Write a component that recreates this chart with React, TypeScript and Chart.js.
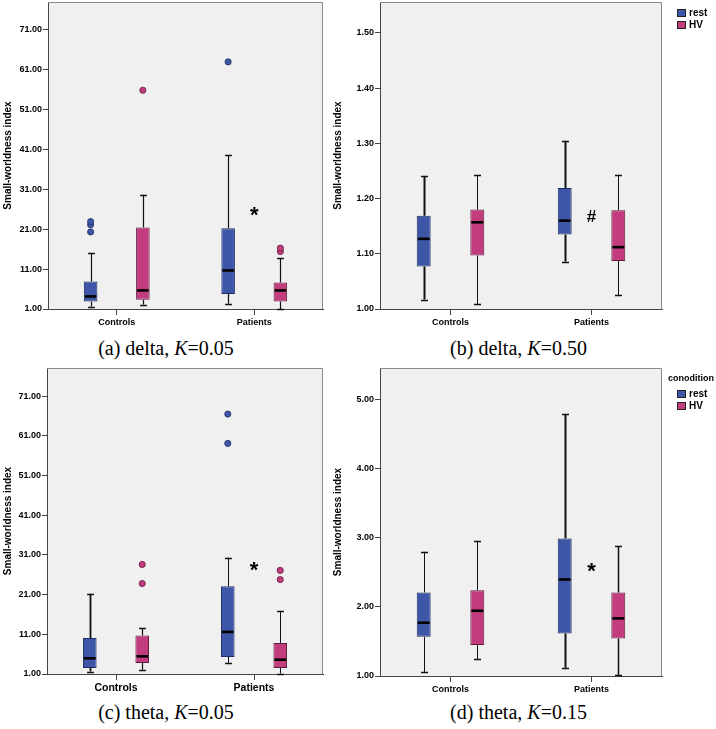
import React, { useEffect, useRef } from 'react';
import { Chart, registerables } from 'chart.js';

Chart.register(...registerables);

const SANS = "'Liberation Sans', Arial, sans-serif";
const SERIF = "'Liberation Serif', 'Times New Roman', serif";

const categories = ['Controls', 'Patients'];
const seriesLabels = ['rest', 'HV'];
const seriesFill = ['#3d56a8', '#c23c7e'];
const seriesEdge = ['#1f2d62', '#5e1a3d'];
const yTitle = 'Small-worldness index';
const legendTitleD = 'conodition';

// (a) delta, K=0.05
const aTicks = [1, 11, 21, 31, 41, 51, 61, 71];
const aRestBox = [[2.9, 7.9], [4.75, 21.2]];
const aRestMedian = [4.15, 10.65];
const aRestWhisker = [[1.6, 15.0], [2.3, 39.5]];
const aRestOutliers = [[20.3, 22.1, 22.9], [62.9]];
const aHvBox = [[3.3, 21.4], [2.9, 7.65]];
const aHvMedian = [5.65, 5.65];
const aHvWhisker = [[2.1, 29.6], [1.0, 13.75]];
const aHvOutliers = [[55.8], [15.4, 16.25]];
const aMarkValue = 25.8;

// (b) delta, K=0.50
const bTicks = [1.0, 1.1, 1.2, 1.3, 1.4, 1.5];
const bRestBox = [[1.077, 1.169], [1.135, 1.219]];
const bRestMedian = [1.127, 1.16];
const bRestWhisker = [[1.017, 1.24], [1.086, 1.304]];
const bRestOutliers = [[], []];
const bHvBox = [[1.097, 1.18], [1.087, 1.179]];
const bHvMedian = [1.157, 1.112];
const bHvWhisker = [[1.009, 1.242], [1.025, 1.243]];
const bHvOutliers = [[], []];
const bMarkValue = 1.169;

// (c) theta, K=0.05
const cTicks = [1, 11, 21, 31, 41, 51, 61, 71];
const cRestBox = [[2.5, 10.1], [5.3, 23.1]];
const cRestMedian = [4.95, 11.6];
const cRestWhisker = [[1.6, 21.25], [3.8, 30.3]];
const cRestOutliers = [[], [59.1, 66.5]];
const cHvBox = [[3.8, 10.7], [2.5, 8.8]];
const cHvMedian = [5.45, 4.6];
const cHvWhisker = [[2.1, 12.6], [1.1, 16.8]];
const cHvOutliers = [[23.8, 28.6], [24.8, 27.1]];
const cMarkValue = 28.4;

// (d) theta, K=0.15
const dTicks = [1, 2, 3, 4, 5];
const dRestBox = [[1.567, 2.207], [1.615, 2.986]];
const dRestMedian = [1.769, 2.394];
const dRestWhisker = [[1.06, 2.793], [1.12, 4.784]];
const dRestOutliers = [[], []];
const dHvBox = [[1.447, 2.24], [1.543, 2.207]];
const dHvMedian = [1.942, 1.832];
const dHvWhisker = [[1.24, 2.947], [1.014, 2.875]];
const dHvOutliers = [[], []];
const dMarkValue = 2.59;

type Series = { box: number[][]; median: number[]; whisker: number[][]; outliers: number[][]; ww: number[] };
type Panel = {
  key: string;
  left: number; top: number; width: number; height: number;
  yW: number; xH: number; padTop: number; padRight: number;
  yMin: number; yMax: number; ticks: number[];
  rest: Series; hv: Series;
  mark: { text: string; value: number; size: number; lift: number; bold: boolean };
  legend?: { x: number; y: number; step: number; title?: string; titleY?: number; titleX?: number };
  xFont: number;
  caption: [string, string];
  capX: number; capY: number;
};

const boxPlotExtras = {
  id: 'boxPlotExtras',
  beforeDraw(chart: any) {
    const { ctx, chartArea: a } = chart;
    ctx.save();
    ctx.fillStyle = '#f0f0f0';
    ctx.fillRect(a.left, a.top, a.right - a.left, a.bottom - a.top);
    ctx.restore();
  },
  beforeDatasetsDraw(chart: any) {
    const { ctx, chartArea: a } = chart;
    const y = chart.scales.y;
    ctx.save();
    ctx.strokeStyle = '#8a8a8a';
    ctx.lineWidth = 1;
    ctx.beginPath();
    ctx.moveTo(a.left, a.top + 0.5);
    ctx.lineTo(a.right - 0.5, a.top + 0.5);
    ctx.lineTo(a.right - 0.5, a.bottom);
    ctx.stroke();
    chart.data.datasets.forEach((ds: any, i: number) => {
      const meta = chart.getDatasetMeta(i);
      meta.data.forEach((el: any, j: number) => {
        const x = Math.round(el.x) + 0.5;
        const cap = el.width * 0.5;
        const [lo, hi] = ds.whisker[j];
        const [q1, q3] = ds.data[j];
        ctx.strokeStyle = '#111';
        ctx.lineWidth = ds.ww[j];
        ctx.beginPath();
        ctx.moveTo(x, y.getPixelForValue(hi));
        ctx.lineTo(x, y.getPixelForValue(q3));
        ctx.moveTo(x, y.getPixelForValue(q1));
        ctx.lineTo(x, y.getPixelForValue(lo));
        ctx.stroke();
        ctx.lineWidth = 1.3;
        ctx.beginPath();
        for (const v of [lo, hi]) {
          const py = Math.round(y.getPixelForValue(v)) + 0.5;
          ctx.moveTo(x - cap / 2, py);
          ctx.lineTo(x + cap / 2, py);
        }
        ctx.stroke();
      });
    });
    ctx.restore();
  },
  afterDatasetsDraw(chart: any, _args: any, opts: any) {
    const { ctx } = chart;
    const y = chart.scales.y;
    const xs = chart.scales.x;
    ctx.save();
    chart.data.datasets.forEach((ds: any, i: number) => {
      const meta = chart.getDatasetMeta(i);
      meta.data.forEach((el: any, j: number) => {
        const py = y.getPixelForValue(ds.median[j]);
        ctx.strokeStyle = '#000';
        ctx.lineWidth = 2.6;
        ctx.beginPath();
        ctx.moveTo(el.x - el.width / 2 + 1, py);
        ctx.lineTo(el.x + el.width / 2 - 1, py);
        ctx.stroke();
        for (const v of ds.outliers[j]) {
          ctx.beginPath();
          ctx.arc(el.x, y.getPixelForValue(v), 3.1, 0, Math.PI * 2);
          ctx.fillStyle = ds.backgroundColor;
          ctx.fill();
          ctx.lineWidth = 0.8;
          ctx.strokeStyle = ds.borderColor;
          ctx.stroke();
        }
      });
    });
    const m = opts.mark;
    if (m) {
      ctx.fillStyle = '#000';
      ctx.font = `${m.bold ? 'bold ' : ''}${m.size}px ${SANS}`;
      ctx.textAlign = 'center';
      ctx.textBaseline = 'alphabetic';
      ctx.fillText(m.text, xs.getPixelForValue(1), y.getPixelForValue(m.value) + m.lift * m.size);
    }
    const lg = opts.legend;
    if (lg) {
      ctx.textAlign = 'left';
      ctx.textBaseline = 'middle';
      if (lg.title) {
        ctx.fillStyle = '#000';
        ctx.font = `bold 9px ${SANS}`;
        ctx.fillText(lg.title, lg.titleX, lg.titleY);
      }
      chart.data.datasets.forEach((ds: any, i: number) => {
        const top = lg.y + i * lg.step;
        ctx.fillStyle = ds.backgroundColor;
        ctx.fillRect(lg.x, top, 9, 8);
        ctx.strokeStyle = '#222';
        ctx.lineWidth = 1;
        ctx.strokeRect(lg.x + 0.5, top + 0.5, 8, 7);
        ctx.fillStyle = '#000';
        ctx.font = `bold 10px ${SANS}`;
        ctx.fillText(ds.label, lg.x + 12, top + 4.5);
      });
    }
    ctx.restore();
  },
};

function makeSeries(box: number[][], median: number[], whisker: number[][], outliers: number[][], ww: number[]): Series {
  return { box, median, whisker, outliers, ww };
}

const panels: Panel[] = [
  {
    key: 'a', left: 0, top: 0, width: 330, height: 332, yW: 48, xH: 23, padTop: 2, padRight: 7,
    yMin: 1, yMax: 77.9, ticks: aTicks,
    rest: makeSeries(aRestBox, aRestMedian, aRestWhisker, aRestOutliers, [1.2, 1.2]),
    hv: makeSeries(aHvBox, aHvMedian, aHvWhisker, aHvOutliers, [1.2, 1.2]),
    mark: { text: '*', value: aMarkValue, size: 22, lift: 0.55, bold: true },
    xFont: 9, caption: ['(a) delta, ', '=0.05'], capX: 166, capY: 348,
  },
  {
    key: 'b', left: 330, top: 0, width: 386, height: 332, yW: 50, xH: 23, padTop: 2, padRight: 54,
    yMin: 1, yMax: 1.556, ticks: bTicks,
    rest: makeSeries(bRestBox, bRestMedian, bRestWhisker, bRestOutliers, [2, 2]),
    hv: makeSeries(bHvBox, bHvMedian, bHvWhisker, bHvOutliers, [1, 1]),
    mark: { text: '#', value: bMarkValue, size: 17, lift: 0.36, bold: true },
    legend: { x: 347, y: 9, step: 12 },
    xFont: 9, caption: ['(b) delta, ', '=0.50'], capX: 518.5, capY: 348,
  },
  {
    key: 'c', left: 0, top: 366, width: 330, height: 332, yW: 47, xH: 24, padTop: 2, padRight: 7,
    yMin: 1, yMax: 78.1, ticks: cTicks,
    rest: makeSeries(cRestBox, cRestMedian, cRestWhisker, cRestOutliers, [1.8, 1]),
    hv: makeSeries(cHvBox, cHvMedian, cHvWhisker, cHvOutliers, [1.2, 1]),
    mark: { text: '*', value: cMarkValue, size: 22, lift: 0.55, bold: true },
    xFont: 10.5, caption: ['(c) theta, ', '=0.05'], capX: 166, capY: 712,
  },
  {
    key: 'd', left: 330, top: 366, width: 386, height: 332, yW: 50, xH: 22, padTop: 2, padRight: 54,
    yMin: 1, yMax: 5.449, ticks: dTicks,
    rest: makeSeries(dRestBox, dRestMedian, dRestWhisker, dRestOutliers, [1, 2]),
    hv: makeSeries(dHvBox, dHvMedian, dHvWhisker, dHvOutliers, [1, 1.5]),
    mark: { text: '*', value: dMarkValue, size: 22, lift: 0.55, bold: true },
    legend: { x: 347, y: 24, step: 12, title: legendTitleD, titleX: 338, titleY: 13 },
    xFont: 9, caption: ['(d) theta, ', '=0.15'], capX: 518.5, capY: 712,
  },
];

function buildChart(canvas: HTMLCanvasElement, p: Panel) {
  const mk = (s: Series, i: number) => ({
    label: seriesLabels[i],
    data: s.box,
    backgroundColor: seriesFill[i],
    borderColor: seriesEdge[i],
    borderWidth: 1,
    borderSkipped: false,
    median: s.median,
    whisker: s.whisker,
    outliers: s.outliers,
    ww: s.ww,
    categoryPercentage: 0.76,
    barPercentage: 0.26,
  });
  return new Chart(canvas, {
    type: 'bar',
    data: { labels: categories, datasets: [mk(p.rest, 0), mk(p.hv, 1)] as any },
    options: {
      animation: false,
      responsive: false,
      devicePixelRatio: 1,
      events: [],
      layout: { autoPadding: false, padding: { top: p.padTop, right: p.padRight, left: 0, bottom: 0 } },
      plugins: {
        legend: { display: false },
        tooltip: { enabled: false },
        boxPlotExtras: { mark: p.mark, legend: p.legend },
      } as any,
      scales: {
        x: {
          grid: { display: true, drawOnChartArea: false, offset: false, tickLength: 6, color: '#444', lineWidth: 1 },
          border: { display: true, color: '#444', width: 1 },
          ticks: { color: '#000', font: { family: SANS, size: p.xFont, weight: 'bold' }, padding: 2 },
          afterFit: (s: any) => { s.height = p.xH; s.paddingLeft = 0; s.paddingRight = 0; },
        },
        y: {
          type: 'linear',
          min: p.yMin,
          max: p.yMax,
          afterBuildTicks: (s: any) => { s.ticks = p.ticks.map((v) => ({ value: v })); },
          grid: { display: true, drawOnChartArea: false, tickLength: 5, color: '#444', lineWidth: 1 },
          border: { display: true, color: '#444', width: 1 },
          ticks: {
            color: '#000',
            font: { family: SANS, size: 9, weight: 'bold' },
            padding: 1,
            callback: (v: any) => Number(v).toFixed(2),
          },
          title: { display: true, text: yTitle, color: '#000', font: { family: SANS, size: 10, weight: 'bold' }, padding: { top: 2, bottom: 0 } },
          afterFit: (s: any) => { s.width = p.yW; s.paddingTop = 0; s.paddingBottom = 0; },
        },
      },
    } as any,
    plugins: [boxPlotExtras as any],
  });
}

function PanelChart({ p }: { p: Panel }) {
  const ref = useRef<HTMLCanvasElement>(null);
  useEffect(() => {
    if (!ref.current) return;
    const chart = buildChart(ref.current, p);
    return () => chart.destroy();
  }, [p]);
  return (
    <canvas
      ref={ref}
      width={p.width}
      height={p.height}
      style={{ position: 'absolute', left: p.left, top: p.top, width: p.width, height: p.height }}
    />
  );
}

export default function App() {
  return (
    <div style={{ position: 'fixed', left: 0, top: 0, width: 716, height: 729, background: '#fff', overflow: 'hidden' }}>
      {panels.map((p) => (
        <React.Fragment key={p.key}>
          <PanelChart p={p} />
          <div
            style={{
              position: 'absolute',
              left: p.capX - 120,
              width: 240,
              top: p.capY - 12,
              height: 24,
              lineHeight: '24px',
              textAlign: 'center',
              fontFamily: SERIF,
              fontSize: 20,
              color: '#000',
              whiteSpace: 'nowrap',
            }}
          >
            {p.caption[0]}
            <i>K</i>
            {p.caption[1]}
          </div>
        </React.Fragment>
      ))}
    </div>
  );
}
